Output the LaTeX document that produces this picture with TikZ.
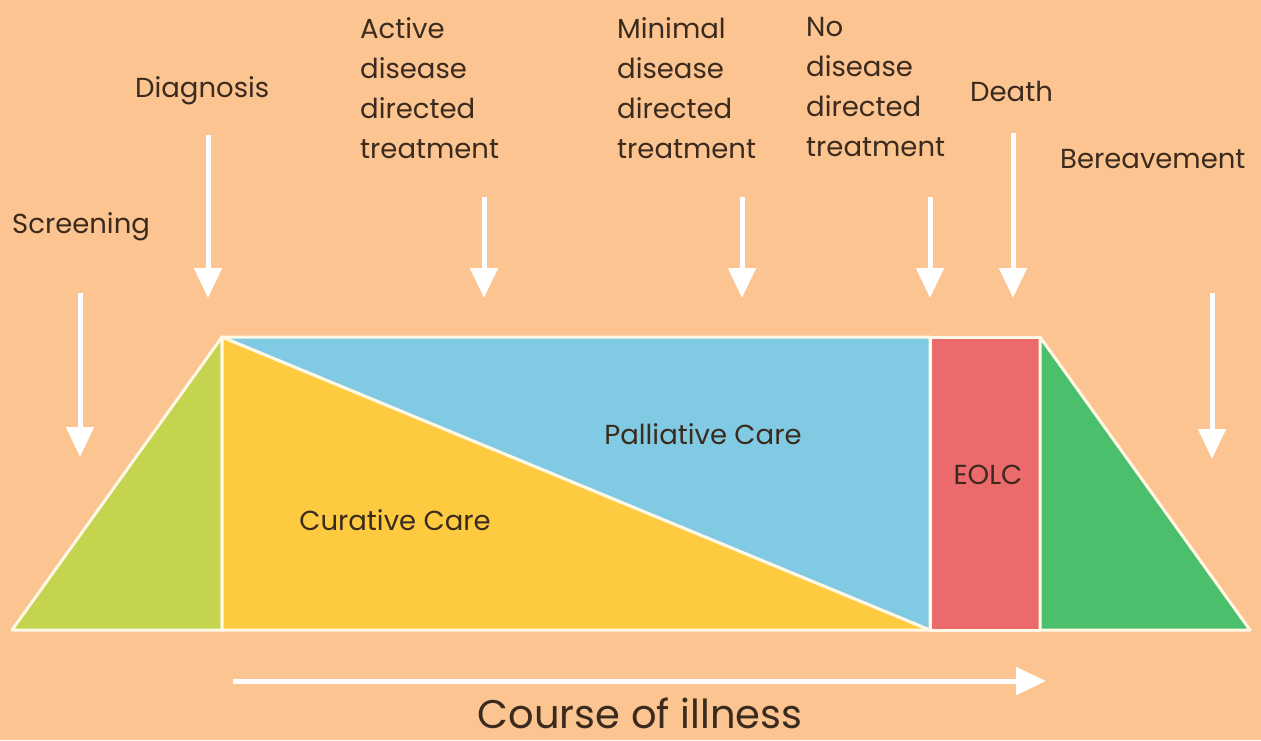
\documentclass[tikz,border=0pt]{standalone}
\usepackage{fontspec}
\setmainfont{Poppins}
\usetikzlibrary{arrows.meta}
\definecolor{bgpeach}{HTML}{FCC490}
\definecolor{lime}{HTML}{C5D44E}
\definecolor{curative}{HTML}{FECB40}
\definecolor{palliative}{HTML}{80CBE3}
\definecolor{eolc}{HTML}{EB6A6C}
\definecolor{bereave}{HTML}{4CBF6C}
\definecolor{ink}{HTML}{3B2A1E}
\definecolor{edge}{HTML}{FFF8E6}
\tikzset{
  region/.style={draw=edge, line width=3pt, line join=round},
  label/.style={text=ink, inner sep=0pt, font=\fontsize{27.5}{40}\selectfont},
  stacklabel/.style={label, align=left, anchor=north west},
  pointer/.style={draw=white, line width=5pt, -{Triangle[width=27pt,length=30pt]}},
}
\begin{document}
\begin{tikzpicture}[x=1pt,y=-1pt]
\useasboundingbox (0,0) rectangle (1261,740);
\fill[bgpeach] (0,0) rectangle (1261,740);

% stages of care
\filldraw[region, fill=lime] (12,630) -- (222,337) -- (222,630) -- cycle;
\filldraw[region, fill=curative] (222,337) -- (930,630) -- (222,630) -- cycle;
\filldraw[region, fill=palliative] (222,337) -- (930,337) -- (930,630) -- cycle;
\filldraw[region, fill=eolc] (930,337) rectangle (1040,630);
\filldraw[region, fill=bereave] (1040,337) -- (1250,630) -- (1040,630) -- cycle;

\node[label, anchor=base] (pal) at (703,444) {Palliative Care};
\node[label, anchor=base] (cur) at (395,530) {Curative Care};
\node[label, anchor=base] (eol) at (988,484) {EOLC};

% milestone labels
\node[label, anchor=base west] (scr) at (12,233) {Screening};
\node[label, anchor=base west] (dia) at (135,97) {Diagnosis};
\node[stacklabel] (act) at (360,17) {Active\\disease\\directed\\treatment};
\node[stacklabel] (min) at (617,17) {Minimal\\disease\\directed\\treatment};
\node[stacklabel] (nod) at (806,17) {No\\disease\\directed\\treatment};
\node[label, anchor=base west] (dth) at (970,101) {Death};
\node[label, anchor=base west] (ber) at (1060,168) {Bereavement};

% arrow ends
\coordinate (scrA) at (80,293);   \coordinate (scrB) at (80,457);
\coordinate (diaA) at (208,135);  \coordinate (diaB) at (208,298);
\coordinate (actA) at (484,197);  \coordinate (actB) at (484,298);
\coordinate (minA) at (742,197);  \coordinate (minB) at (742,298);
\coordinate (nodA) at (930,197);  \coordinate (nodB) at (930,298);
\coordinate (dthA) at (1013,133); \coordinate (dthB) at (1013,298);
\coordinate (berA) at (1212,293); \coordinate (berB) at (1212,459);
\coordinate (crsA) at (233,681);  \coordinate (crsB) at (1046,681);

\foreach \s in {scr,dia,act,min,nod,dth,ber,crs}
  \draw[pointer] (\s A) -- (\s B);

\node[label, anchor=base, font=\fontsize{40}{46}\selectfont] (crs) at (640,728) {Course of illness};
\end{tikzpicture}
\end{document}
